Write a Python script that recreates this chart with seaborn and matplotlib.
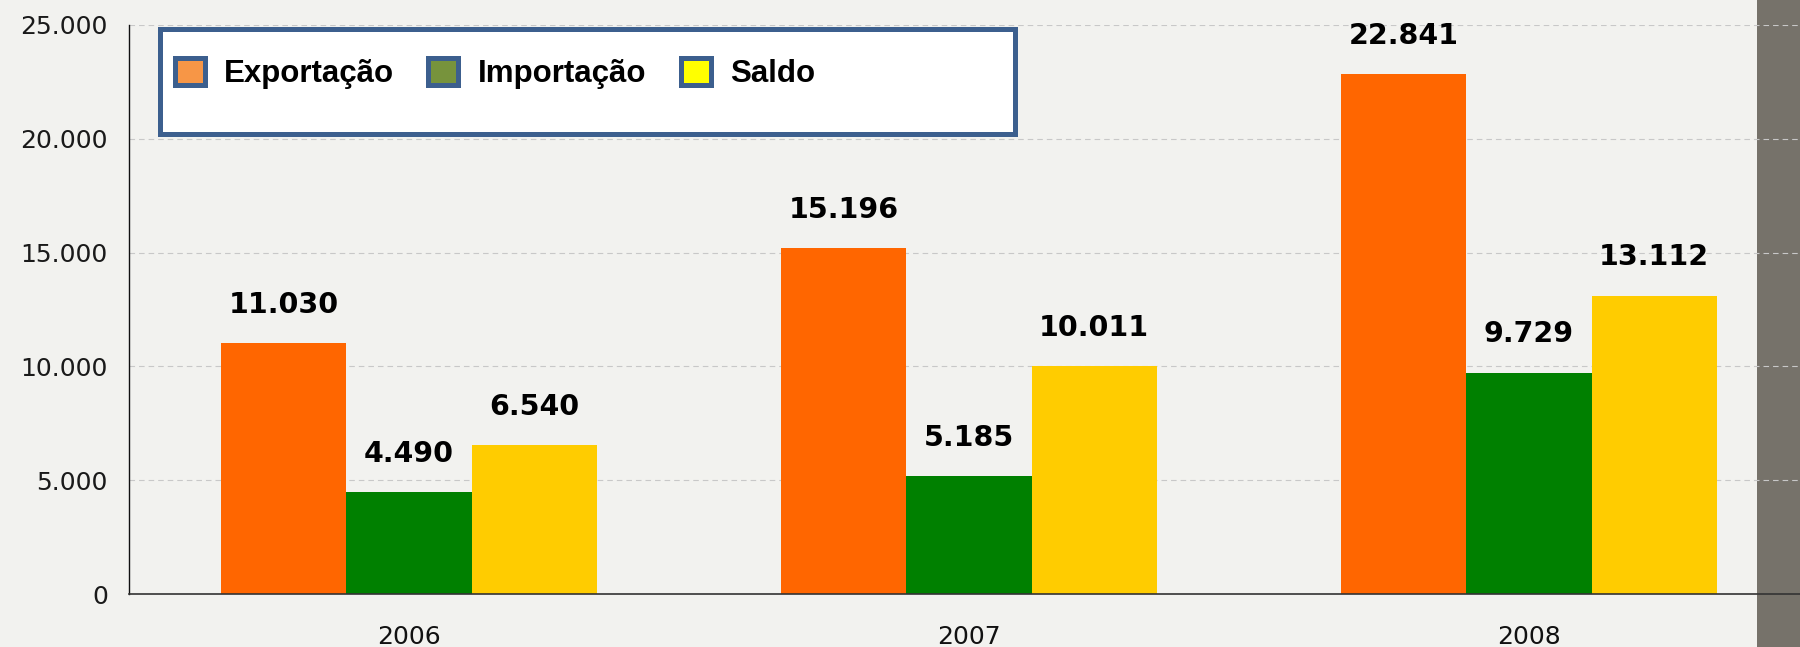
import numpy as np
import pandas as pd
import matplotlib
matplotlib.use("Agg")
import matplotlib.pyplot as plt
import seaborn as sns
from matplotlib.patches import Patch, Rectangle
from matplotlib.ticker import FuncFormatter, FixedLocator

# ---- data ----
anos = ["2006", "2007", "2008"]
series = ["Exportação", "Importação", "Saldo"]
exportacao = [11030, 15196, 22841]
importacao = [4490, 5185, 9729]
saldo = [6540, 10011, 13112]
y_ticks = [0, 5000, 10000, 15000, 20000, 25000]

bar_colors = ["#FF6600", "#008000", "#FFCC00"]
legend_colors = ["#F79646", "#77933C", "#FFFF00"]

df = pd.DataFrame({
    "Ano": anos * 3,
    "Série": [s for s in series for _ in anos],
    "Valor": exportacao + importacao + saldo,
})


def fmt(v):
    return f"{int(v):,}".replace(",", ".")


W, H = 1800, 647
sns.set_theme(style="white")
plt.rcParams["font.family"] = ["DejaVu Sans"]

fig = plt.figure(figsize=(W / 100, H / 100), dpi=100, facecolor="#F2F2EF")
ax = fig.add_axes([129 / W, 1 - 594 / H, 1680 / W, (594 - 25) / H])
ax.set_facecolor("none")

# dark border stripe at right
fig.add_artist(Rectangle((1757 / W, 0), 43 / W, 1, transform=fig.transFigure,
                         facecolor="#76726A", edgecolor="none", zorder=-1))

sns.barplot(data=df, x="Ano", y="Valor", hue="Série", order=anos, hue_order=series,
            palette=bar_colors, width=0.67, saturation=1, legend=False, ax=ax,
            linewidth=0, edgecolor="none")

for cont, vals in zip(ax.containers, [exportacao, importacao, saldo]):
    ax.bar_label(cont, labels=[fmt(v) for v in vals], padding=17.5,
                 fontsize=20.5, fontweight="bold", color="#000000")

ax.set_ylim(0, 25000)
ax.set_xlim(-0.5, 2.5)
ax.yaxis.set_major_locator(FixedLocator(y_ticks))
ax.yaxis.set_major_formatter(FuncFormatter(lambda v, p: fmt(v)))
ax.set_axisbelow(True)
ax.grid(axis="y", color="#C8C8C8", linestyle=(0, (5, 3.6)), linewidth=0.8)
ax.grid(axis="x", visible=False)

ax.set_xticks([-0.5, 0.5, 1.5, 2.5])
ax.set_xticklabels([])
ax.set_xticks([0, 1, 2], minor=True)
ax.set_xticklabels(anos, minor=True)
ax.tick_params(axis="x", which="major", length=5.5, width=1, color="#222222", direction="out")
ax.tick_params(axis="x", which="minor", length=0, pad=22, labelsize=18, labelcolor="#111111")
ax.tick_params(axis="y", length=4.3, width=1, color="#555555", direction="out",
               pad=11, labelsize=18, labelcolor="#1A1A1A")
ax.set_xlabel("")
ax.set_ylabel("")

for s in ["top", "right"]:
    ax.spines[s].set_visible(False)
ax.spines["left"].set_color("#111111")
ax.spines["left"].set_linewidth(1.0)
ax.spines["bottom"].set_color("#333333")
ax.spines["bottom"].set_linewidth(1.2)

# legend frame
frame = Rectangle((159.5 / W, 1 - 133.5 / H), (1014.5 - 159.5) / W, (133.5 - 28.5) / H,
                  transform=fig.transFigure, facecolor="white", edgecolor="#3C5F8E",
                  linewidth=3.6, zorder=4, clip_on=False)
ax.add_artist(frame)

handles = [Patch(facecolor=c, edgecolor="#3C5F8E", linewidth=3.6, label=s)
           for c, s in zip(legend_colors, series)]
leg = ax.legend(handles=handles, loc="center left",
                bbox_to_anchor=(174.5 / W, 1 - 73.5 / H), bbox_transform=fig.transFigure,
                ncol=3, frameon=False, borderpad=0, borderaxespad=0,
                handlelength=0.96, handleheight=0.96, handletextpad=0.62, columnspacing=1.1,
                labelcolor="#000000",
                prop={"family": "Liberation Sans", "weight": "bold", "size": 22.5})
leg.set_zorder(6)

fig.savefig("out.png", dpi=100, facecolor=fig.get_facecolor())
